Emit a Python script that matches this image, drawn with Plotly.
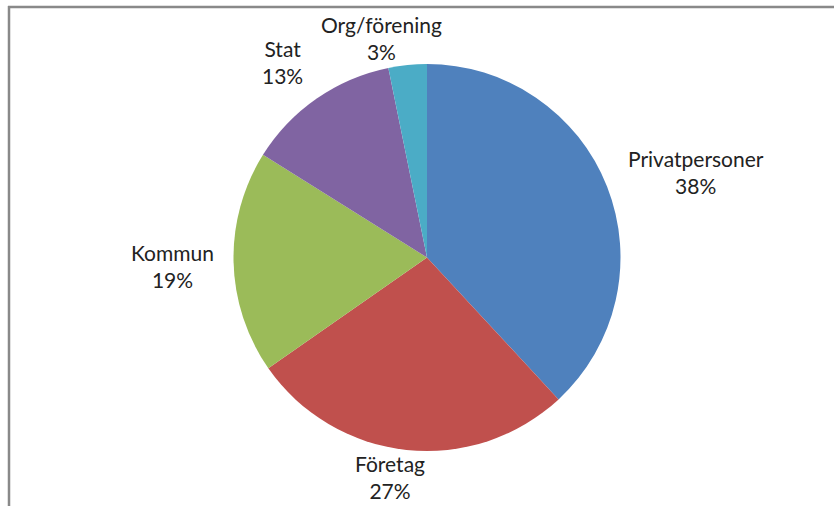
import plotly.graph_objects as go

# Data (shares; labels show rounded percentages)
categories = ["Privatpersoner", "Företag", "Kommun", "Stat", "Org/förening"]
values = [38.1, 27.2, 18.6, 12.9, 3.2]
colors = ["#4F81BD", "#C0504D", "#9BBB59", "#8064A2", "#4BACC6"]

W, H = 834, 506
cx, cy, r = 427, 257.5, 193.5

# label block centres (pixels), Excel-style best-fit placement
label_px = [(696, 172), (390, 477), (172, 266), (282, 62), (381, 38)]

fig = go.Figure(go.Pie(
    labels=categories,
    values=values,
    sort=False,
    direction="clockwise",
    rotation=0,
    marker=dict(colors=colors, line=dict(width=0)),
    textinfo="none",
    hoverinfo="label+percent",
    domain=dict(x=[(cx - r) / W, (cx + r) / W],
                y=[(H - cy - r) / H, (H - cy + r) / H]),
    showlegend=False,
))

total = sum(values)
for cat, v, (px, py) in zip(categories, values, label_px):
    fig.add_annotation(
        x=px / W, y=1 - py / H, xref="paper", yref="paper",
        text=f"{cat}<br>{round(100 * v / total)}%",
        showarrow=False, xanchor="center", yanchor="middle",
        font=dict(family="Lato, Open Sans, sans-serif", size=21, color="#222222"),
    )

# chart frame (grey border partially visible on top and left)
fig.add_shape(type="line", xref="paper", yref="paper",
              x0=8 / W, x1=1.01, y0=1 - 7 / H, y1=1 - 7 / H,
              line=dict(color="#898989", width=2.5))
fig.add_shape(type="line", xref="paper", yref="paper",
              x0=9 / W, x1=9 / W, y0=1 - 6 / H, y1=-0.01,
              line=dict(color="#898989", width=2.5))

fig.update_layout(
    width=W, height=H,
    margin=dict(l=0, r=0, t=0, b=0),
    paper_bgcolor="white", plot_bgcolor="white",
)

fig.write_html("out.html",
               config={"displayModeBar": False},
               post_script="document.body.style.margin='0px';document.body.style.overflow='hidden';")
